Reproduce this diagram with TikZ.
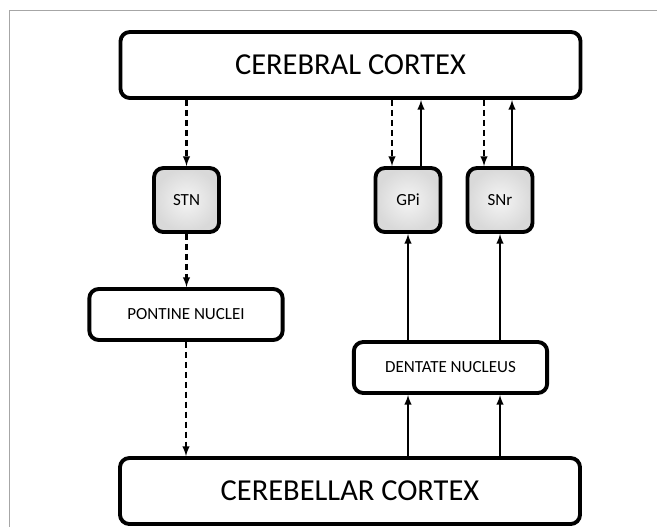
\documentclass[tikz,border=0pt]{standalone}
\usepackage{fontspec}
\setmainfont{Carlito}
\usetikzlibrary{positioning, shapes, arrows}

\tikzset{
  region/.style={draw, rounded corners=8pt, line width=3.3pt, fill=white, align=center},
  bigregion/.style={region, minimum width=13.8cm, minimum height=1.98cm, font=\fontsize{26}{30}\selectfont},
  nucleus/.style={region, minimum width=5.8cm, minimum height=1.53cm, font=\fontsize{14.5}{16}\selectfont},
  ganglion/.style={region, minimum width=1.95cm, minimum height=1.92cm, font=\fontsize{14.5}{16}\selectfont,
    shading=radial, inner color=gray!8, outer color=gray!30},
  proj/.style={line width=1.8pt, -latex},
  dproj/.style={proj, dash pattern=on 5.5pt off 3pt}
}

\begin{document}
\begin{tikzpicture}[x=0.03cm, y=-0.03cm]
\useasboundingbox (0,0) rectangle (657,526);
% the frame of the figure
\draw[gray!70, line width=0.8pt] (9,530) -- (9,10) -- (660,10);

% the regions
\node[bigregion] (cerebrum) at (350.5,65) {CEREBRAL CORTEX};
\node[bigregion] (cerebellum) at (350,491) {CEREBELLAR CORTEX};
\node[ganglion] (stn) at (186.5,200) {STN};
\node[ganglion] (gpi) at (408,200) {GPi};
\node[ganglion] (snr) at (500,200) {SNr};
\node[nucleus] (pontine) at (186,314.5) {PONTINE NUCLEI};
\node[nucleus] (dentate) at (450.5,367.5) {DENTATE NUCLEUS};

% cortico-ponto-cerebellar path
\draw[dproj] (cerebrum.south -| stn) -- (stn.north);
\draw[dproj] (stn.south) -- (pontine.north -| stn);
\draw[dproj] (pontine.south) -- (cerebellum.north -| pontine);

% loops through the basal ganglia
\draw[dproj] ([xshift=-0.48cm]cerebrum.south -| gpi) -- ([xshift=-0.48cm]gpi.north);
\draw[proj] ([xshift=0.39cm]gpi.north) -- ([xshift=0.39cm]cerebrum.south -| gpi);
\draw[dproj] ([xshift=-0.48cm]cerebrum.south -| snr) -- ([xshift=-0.48cm]snr.north);
\draw[proj] ([xshift=0.36cm]snr.north) -- ([xshift=0.36cm]cerebrum.south -| snr);

% cerebellar output
\draw[proj] (dentate.north -| gpi) -- (gpi.south);
\draw[proj] (dentate.north -| snr) -- (snr.south);
\draw[proj] (cerebellum.north -| gpi) -- (dentate.south -| gpi);
\draw[proj] (cerebellum.north -| snr) -- (dentate.south -| snr);
\end{tikzpicture}
\end{document}
